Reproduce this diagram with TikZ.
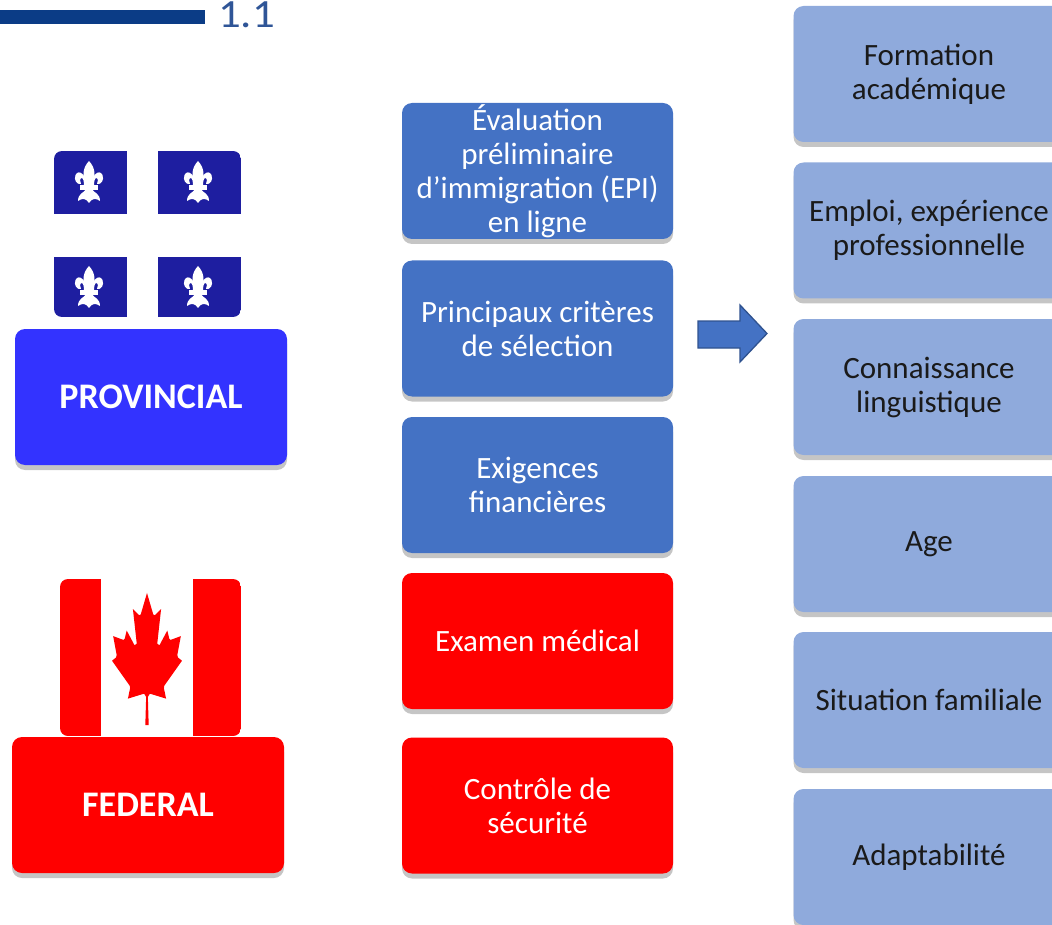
\documentclass[tikz,border=0pt]{standalone}
\usepackage{fontspec}
\setmainfont{Carlito}
\usetikzlibrary{shadows}
\definecolor{midblue}{HTML}{4472C4}
\definecolor{litblue}{HTML}{8FAADC}
\definecolor{provblue}{HTML}{3333FF}
\definecolor{qcblue}{RGB}{30,30,160}
\definecolor{barblue}{HTML}{0B3C86}
\definecolor{numblue}{HTML}{2F5597}
\definecolor{arrowedge}{HTML}{2F528F}
\definecolor{txtdark}{HTML}{1A1A1A}
\definecolor{flagred}{HTML}{FF0000}
\begin{document}
\begin{tikzpicture}[x=1pt,y=-1pt,
  shad/.style={drop shadow={shadow xshift=0pt,shadow yshift=-5pt,opacity=0.3,fill=black!75}},
  box/.style={shape=rectangle,rounded corners=10pt,minimum width=271pt,minimum height=136pt,
    align=center,inner sep=0pt,font=\fontsize{31}{34}\selectfont,shad},
  bluebox/.style={box,fill=midblue,text=white},
  redbox/.style={box,fill=flagred,text=white},
  critbox/.style={box,fill=litblue,text=txtdark},
  levelbox/.style={box,minimum width=272pt,text=white,font=\bfseries\fontsize{36}{40}\selectfont},
  fleurpic/.pic={
    \fill[white] (0,-21) .. controls (6.5,-14) and (7,-6) .. (3,4) -- (-3,4)
       .. controls (-7,-6) and (-6.5,-14) .. (0,-21) -- cycle;
    \foreach \s in {1,-1}{
      \fill[white,xscale=\s] (2,4) .. controls (2,-6) and (10,-14) .. (13.5,-7)
        .. controls (15.5,-2) and (12,3) .. (8,2)
        .. controls (9.5,0) and (9,-4) .. (7.5,-4)
        .. controls (5.5,-4) and (5,0) .. (5,4) -- cycle;
    }
    \fill[white] (-9,3.5) rectangle (9,8.5);
    \fill[white] (-3.5,8) -- (3.5,8) .. controls (6,11) and (11,12) .. (11,19)
       .. controls (7,16) and (3,16) .. (0,21) .. controls (-3,16) and (-7,16) .. (-11,19)
       .. controls (-11,12) and (-6,11) .. (-3.5,8) -- cycle;
  }
]
\useasboundingbox (0,0) rectangle (1052,925);
\clip (0,0) rectangle (1052,925);

% header bar and number
\fill[barblue] (0,10) rectangle (205,24);
\node[anchor=base west,inner sep=0pt,text=numblue,font=\fontsize{40}{40}\selectfont,
  xscale=1.12,transform shape] (num) at (218,27.5) {1.1};

% Quebec flag
\begin{scope}
  \clip[rounded corners=8pt] (54,151) rectangle (241,317);
  \fill[qcblue] (54,151) rectangle (241,317);
  \fill[white] (127,151) rectangle (158,317);
  \fill[white] (54,214) rectangle (241,257);
\end{scope}
\pic (f1) at (89,182) {fleurpic};
\pic (f2) at (198,182) {fleurpic};
\pic (f3) at (89,287) {fleurpic};
\pic (f4) at (198,287) {fleurpic};

% Canada flag
\begin{scope}
  \clip[rounded corners=8pt] (60,579) rectangle (241,736);
  \fill[white] (60,579) rectangle (241,736);
  \fill[flagred] (60,579) rectangle (101,736);
  \fill[flagred] (193,579) rectangle (241,736);
\end{scope}
\begin{scope}[shift={(147,658.6)},xscale=0.0188,yscale=0.0328]
  \fill[flagred] (-90,2030) -- (-45,1167) -- (-156,1069) -- (-1015,1220) -- (-899,900)
    -- (-919,827) -- (-1860,65) -- (-1648,-34) -- (-1614,-113) -- (-1800,-685)
    -- (-1258,-570) -- (-1185,-608) -- (-1080,-855) -- (-657,-401) -- (-546,-458)
    -- (-750,-1510) -- (-423,-1321) -- (-332,-1348) -- (0,-2000)
    -- (332,-1348) -- (423,-1321) -- (750,-1510) -- (546,-458) -- (657,-401)
    -- (1080,-855) -- (1185,-608) -- (1258,-570) -- (1800,-685) -- (1614,-113)
    -- (1648,-34) -- (1860,65) -- (919,827) -- (899,900) -- (1015,1220)
    -- (156,1069) -- (45,1167) -- (90,2030) -- cycle;
\end{scope}

% level boxes
\node[levelbox,fill=provblue] (prov) at (151,397) {PROVINCIAL};
\node[levelbox,fill=flagred] (fed) at (148,805) {FEDERAL};

% middle column
\node[bluebox] (epi) at (537.5,171) {Évaluation\\préliminaire\\d’immigration (EPI)\\en ligne};
\node[bluebox] (crit) at (537.5,328.5) {Principaux critères\\de sélection};
\node[bluebox] (fin) at (537.5,485) {Exigences\\financières};
\node[redbox] (med) at (537.5,641) {Examen médical};
\node[redbox] (sec) at (537.5,805.5) {Contrôle de\\sécurité};

% arrow
\draw[fill=midblue,draw=arrowedge,line width=1.3pt,line join=miter]
  (698,321) -- (740,321) -- (740,305) -- (767,333.5) -- (740,362) -- (740,348) -- (698,348) -- cycle;

% right column
\node[critbox] (form) at (929,74) {Formation\\académique};
\node[critbox] (emp) at (929,230.5) {Emploi, expérience\\professionnelle};
\node[critbox] (ling) at (929,387) {Connaissance\\linguistique};
\node[critbox] (age) at (929,544) {Age};
\node[critbox] (fam) at (929,700) {Situation familiale};
\node[critbox] (adapt) at (929,857) {Adaptabilité};
\end{tikzpicture}
\end{document}
